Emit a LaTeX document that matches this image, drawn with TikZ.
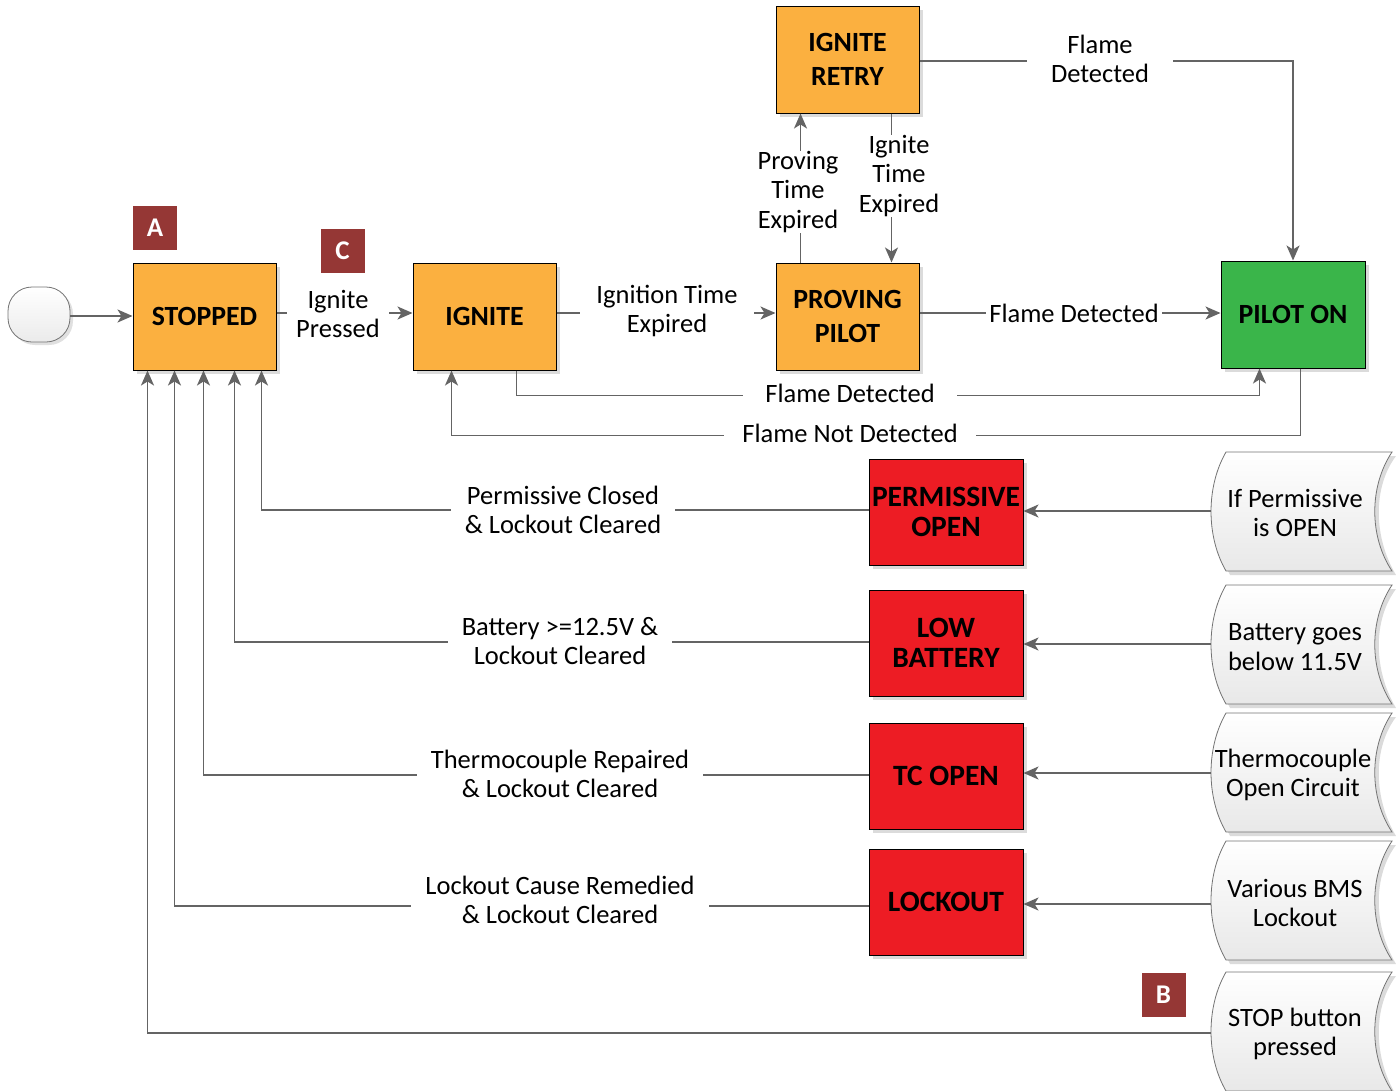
\documentclass[tikz,border=0pt]{standalone}
\usepackage{fontspec}
\setmainfont{Carlito}
\usetikzlibrary{arrows.meta,shadows}
\definecolor{orangeF}{HTML}{FBB040}
\definecolor{greenF}{HTML}{3AB54A}
\definecolor{redF}{HTML}{ED1C24}
\definecolor{tagF}{HTML}{953735}
\definecolor{lineC}{HTML}{646464}
\newcommand{\txtfont}{\fontsize{26.5}{29.5}\selectfont}
\tikzset{
  state/.style={draw=black, line width=1pt, minimum width=143pt, minimum height=107pt,
    align=center, inner sep=0pt, font=\fontsize{27.8}{34}\selectfont\bfseries,
    drop shadow={shadow xshift=4pt, shadow yshift=-4pt, fill=black!14, opacity=1}},
  orst/.style={state, fill=orangeF},
  grst/.style={state, fill=greenF, minimum width=144pt},
  rdst/.style={state, fill=redF, minimum width=154pt, minimum height=106pt,
    font=\fontsize{29.5}{29.5}\selectfont\bfseries},
  conn/.style={draw=lineC, line width=1.8pt, -{Stealth[length=15pt, width=13pt, inset=4pt]}},
  lab/.style={fill=white, align=center, font=\txtfont, inner xsep=14pt, inner ysep=1pt},
  evtxt/.style={align=center, font=\txtfont, inner sep=0pt},
  tag/.style={fill=tagF, text=white, font=\fontsize{27}{30}\selectfont\bfseries,
    minimum size=44pt, inner sep=0pt},
  stored/.pic={
    \fill[black!14] (-71,-55.5) -- (95,-55.5) .. controls (72,-25) and (72,25) .. (95,63.5)
      -- (-71,63.5) .. controls (-91,25) and (-91,-25) .. (-71,-55.5) -- cycle;
    \path[draw=black!55, line width=0.8pt, top color=white, bottom color=black!9]
      (-75,-59.5) -- (91,-59.5) .. controls (68,-25) and (68,25) .. (91,59.5)
      -- (-75,59.5) .. controls (-95,25) and (-95,-25) .. (-75,-59.5) -- cycle;
  }
}
\begin{document}
\begin{tikzpicture}[x=1pt, y=-1pt]
\useasboundingbox (0,0) rectangle (1396,1090);

% start node
\node[draw=black!55, line width=0.8pt, rounded corners=24pt, minimum width=62pt, minimum height=55pt,
  top color=white, bottom color=black!8,
  drop shadow={shadow xshift=3pt, shadow yshift=-3pt, fill=black!12, opacity=1}] (start) at (39,314.5) {};

% states
\node[orst] (stopped) at (204.5,316.5) {STOPPED};
\node[orst] (ignite) at (484.5,316.5) {IGNITE};
\node[orst] (proving) at (847.5,316.5) {PROVING\\PILOT};
\node[orst] (retry) at (847.5,59.5) {IGNITE\\RETRY};
\node[grst] (piloton) at (1293,314.5) {PILOT ON};
\node[rdst] (permopen) at (946,512) {PERMISSIVE\\OPEN};
\node[rdst] (lowbat) at (946,643) {LOW\\BATTERY};
\node[rdst] (tcopen) at (946,776) {TC OPEN};
\node[rdst] (lockout) at (946,902) {LOCKOUT};

% events (stored data shapes)
\pic at (1301,511.5) {stored};
\pic at (1301,644.5) {stored};
\pic at (1301,772.5) {stored};
\pic at (1301,900.5) {stored};
\pic at (1301,1031.5) {stored};
\node[evtxt] (ev1) at (1295,513) {If Permissive\\is OPEN};
\node[evtxt] (ev2) at (1295,647) {Battery goes\\below 11.5V};
\node[evtxt] (ev3) at (1293,775) {Thermocouple\\Open Circuit};
\node[evtxt] (ev4) at (1295,903) {Various BMS\\Lockout};
\node[evtxt] (ev5) at (1295,1034) {STOP button\\pressed};
\coordinate (ev1w) at (1211,511);
\coordinate (ev2w) at (1211,644);
\coordinate (ev3w) at (1211,773);
\coordinate (ev4w) at (1211,904);
\coordinate (ev5w) at (1211,1033);

% tags
\node[tag] (tagA) at (155,228) {A};
\node[tag] (tagB) at (1163.5,995) {B};
\node[tag] (tagC) at (342.5,251) {C};

% connectors
\draw[conn] (start.east |- 0,316) -- (stopped.west |- 0,316);
\draw[conn] (stopped.east |- 0,313) -- (ignite.west |- 0,313);
\draw[conn] (ignite.east |- 0,313) -- (proving.west |- 0,313);
\draw[conn] (proving.east |- 0,313) -- (piloton.west |- 0,313);
\draw[conn] (retry.east |- 0,61) -| (piloton.north);
\draw[conn] ([xshift=25pt]proving.north west) -- ([xshift=25pt]retry.south west);
\draw[conn] ([xshift=116pt]retry.south west) -- ([xshift=116pt]proving.north west);
\draw[conn] ([xshift=104pt]ignite.south west) -- ++(0,25) -| ([xshift=39pt]piloton.south west);
\draw[conn] ([xshift=80pt]piloton.south west) -- ++(0,67) -| ([xshift=39pt]ignite.south west);

\draw[conn] (permopen.west |- 0,510) -| ([xshift=129pt]stopped.south west);
\draw[conn] (lowbat.west |- 0,642) -| ([xshift=102pt]stopped.south west);
\draw[conn] (tcopen.west |- 0,775) -| ([xshift=71pt]stopped.south west);
\draw[conn] (lockout.west |- 0,906) -| ([xshift=42pt]stopped.south west);
\draw[conn] (ev5w) -| ([xshift=15pt]stopped.south west);

\draw[conn] (ev1w) -- (ev1w -| permopen.east);
\draw[conn] (ev2w) -- (ev2w -| lowbat.east);
\draw[conn] (ev3w) -- (ev3w -| tcopen.east);
\draw[conn] (ev4w) -- (ev4w -| lockout.east);

% connector labels
\node[lab, inner xsep=9pt] (l1) at (338,314) {Ignite\\Pressed};
\node[lab, inner xsep=16pt] (l2) at (667,311) {Ignition Time\\Expired};
\node[lab, inner xsep=3pt] (l3) at (1074,313) {Flame Detected};
\node[lab, inner xsep=24pt] (l4) at (1100,59) {Flame\\Detected};
\node[lab, inner xsep=2pt, inner ysep=0pt] (l5) at (798,192) {Proving\\Time\\Expired};
\node[lab, inner xsep=2pt, inner ysep=0pt] (l6) at (899,176) {Ignite\\Time\\Expired};
\node[lab, inner xsep=22pt] (l7) at (850,393) {Flame Detected};
\node[lab, inner xsep=18pt] (l8) at (850,433) {Flame Not Detected};
\node[lab] (l9) at (563,510) {Permissive Closed\\\& Lockout Cleared};
\node[lab] (l10) at (560,641) {Battery >=12.5V \&\\Lockout Cleared};
\node[lab] (l11) at (560,774) {Thermocouple Repaired\\\& Lockout Cleared};
\node[lab] (l12) at (560,900) {Lockout Cause Remedied\\\& Lockout Cleared};
\end{tikzpicture}
\end{document}
